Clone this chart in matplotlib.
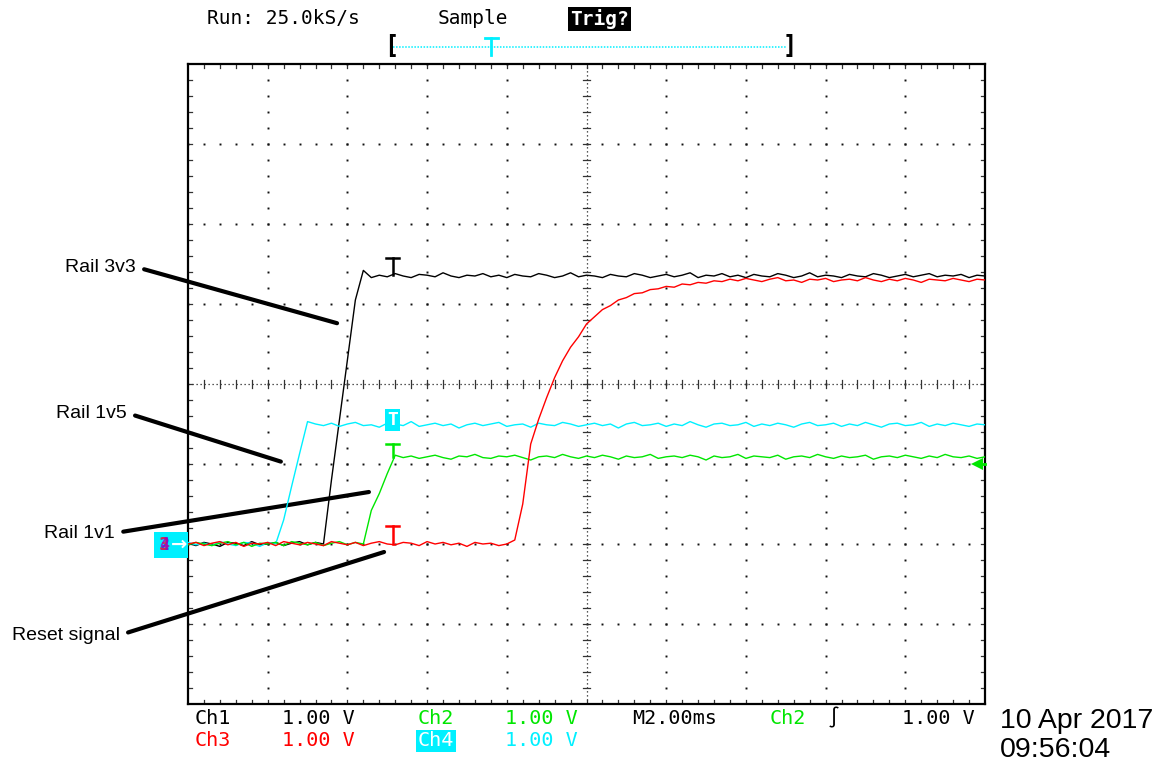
import matplotlib
matplotlib.use("Agg")
import matplotlib.pyplot as plt
from matplotlib.lines import Line2D
from matplotlib.patches import Rectangle
import numpy as np

W, H = 1164, 766

# scope settings: 2 ms/div horizontal, 1 V/div on every channel, ground 2 div below centre
ms_per_div = 2.0
v_per_div = 1.0
n_xdiv, n_ydiv = 10, 8
ground_div = -2
trig_ms = 5.14          # trigger point ("T" markers)
trig_level = 1.00       # Ch2 rising edge level

# one sample every 0.2 ms across the 20 ms screen
t_ms = np.arange(101) * 0.2

# Ch1 - Rail 3v3 (black)
ch1_v = [0.01, -0.02, 0.02, 0.00, -0.03, 0.02, 0.01, -0.02, 0.03, -0.01,
         0.00, 0.02, -0.02, 0.01, 0.03, -0.01, 0.02,
         0.00, 0.80, 1.55, 2.30, 3.05, 3.42,
         3.33, 3.36, 3.34, 3.38, 3.35, 3.33, 3.37, 3.36, 3.34, 3.39,
         3.35, 3.33, 3.36, 3.35, 3.38, 3.34, 3.36, 3.33, 3.37, 3.35,
         3.34, 3.38, 3.36, 3.33, 3.35, 3.39, 3.34, 3.36, 3.35, 3.33,
         3.37, 3.35, 3.34, 3.38, 3.36, 3.33, 3.35, 3.37, 3.34, 3.36,
         3.39, 3.33, 3.36, 3.35, 3.38, 3.34, 3.36, 3.33, 3.37, 3.35,
         3.34, 3.38, 3.36, 3.33, 3.35, 3.39, 3.34, 3.36, 3.35, 3.33,
         3.37, 3.35, 3.34, 3.38, 3.36, 3.33, 3.35, 3.37, 3.34, 3.36,
         3.38, 3.34, 3.36, 3.35, 3.37, 3.33, 3.36, 3.35]

# Ch4 - Rail 1v5 (cyan)
ch4_v = [0.02, -0.01, 0.01, -0.02, 0.03, 0.00, -0.02, 0.02, 0.01, -0.03, 0.02, 0.00,
         0.30, 0.72, 1.13, 1.53,
         1.50, 1.48, 1.51, 1.47, 1.50, 1.52, 1.48, 1.49, 1.46, 1.51,
         1.50, 1.48, 1.53, 1.47, 1.49, 1.51, 1.48, 1.50, 1.45, 1.49,
         1.51, 1.48, 1.50, 1.52, 1.47, 1.49, 1.50, 1.46, 1.51, 1.49,
         1.48, 1.52, 1.50, 1.47, 1.49, 1.51, 1.48, 1.50, 1.45, 1.50,
         1.52, 1.48, 1.49, 1.51, 1.47, 1.50, 1.48, 1.53, 1.49, 1.46,
         1.50, 1.51, 1.48, 1.49, 1.52, 1.47, 1.50, 1.48, 1.51, 1.49,
         1.46, 1.50, 1.52, 1.48, 1.49, 1.51, 1.47, 1.50, 1.48, 1.52,
         1.49, 1.46, 1.50, 1.51, 1.48, 1.49, 1.52, 1.47, 1.50, 1.48,
         1.51, 1.49, 1.47, 1.50, 1.49]

# Ch2 - Rail 1v1 (green)
ch2_v = [-0.01, 0.02, 0.00, -0.02, 0.01, 0.03, -0.01, 0.02, -0.03, 0.01,
         0.00, 0.02, -0.02, 0.03, 0.01, -0.01, 0.02, -0.02, 0.01, 0.03,
         -0.01, 0.02, 0.00,
         0.42, 0.63, 0.88, 1.11,
         1.08, 1.10, 1.07, 1.09, 1.11, 1.08, 1.06, 1.10, 1.09, 1.12,
         1.08, 1.07, 1.10, 1.09, 1.11, 1.08, 1.05, 1.09, 1.10, 1.08,
         1.12, 1.09, 1.07, 1.10, 1.08, 1.11, 1.09, 1.06, 1.10, 1.08,
         1.09, 1.12, 1.07, 1.09, 1.10, 1.08, 1.11, 1.09, 1.05, 1.10,
         1.08, 1.09, 1.12, 1.07, 1.10, 1.09, 1.08, 1.11, 1.06, 1.09,
         1.10, 1.08, 1.12, 1.09, 1.07, 1.10, 1.08, 1.09, 1.11, 1.06,
         1.09, 1.10, 1.08, 1.11, 1.09, 1.07, 1.10, 1.08, 1.12, 1.09,
         1.08, 1.10, 1.07, 1.09]

# Ch3 - Reset signal (red)
ch3_v = [0.00, 0.02, -0.02, 0.01, 0.03, -0.01, 0.02, -0.03, 0.01, 0.00,
         0.02, -0.02, 0.03, 0.01, -0.01, 0.02, 0.00, -0.02, 0.03, 0.01,
         -0.01, 0.02, -0.02, 0.01, 0.03, 0.00, -0.01, 0.02, 0.01, -0.02,
         0.03, 0.00, 0.02, -0.01, 0.01, -0.03, 0.02, 0.00, 0.01, -0.02,
         0.00,
         0.05, 0.50, 1.25, 1.56, 1.83, 2.08, 2.29, 2.46, 2.59, 2.75,
         2.84, 2.93, 2.98, 3.05, 3.08, 3.13, 3.14, 3.18, 3.19, 3.22,
         3.21, 3.25, 3.24, 3.27, 3.26, 3.29, 3.28, 3.31,
         3.29, 3.32, 3.30, 3.28, 3.31, 3.33, 3.29, 3.30, 3.27, 3.31,
         3.30, 3.32, 3.28, 3.30, 3.31, 3.29, 3.33, 3.30, 3.28, 3.31,
         3.29, 3.32, 3.30, 3.27, 3.31, 3.30, 3.29, 3.32, 3.30, 3.28,
         3.31, 3.30]

BLACK, CYAN, GREEN, RED = '#000000', '#00f0ff', '#00e600', '#ff0000'
MONO = 'DejaVu Sans Mono'
SANS = 'Liberation Sans'


def fpx(x, y):
    """pixel position in the screenshot -> figure fraction"""
    return x / W, 1 - y / H


fig = plt.figure(figsize=(W / 100, H / 100), dpi=100)
ax = fig.add_axes([188 / W, 1 - 704 / H, 797 / W, 640 / H])

x0, x1 = 0, n_xdiv * ms_per_div
y0 = ground_div * v_per_div
y1 = y0 + n_ydiv * v_per_div
xc, yc = (x0 + x1) / 2, (y0 + y1) / 2
ax.set_xlim(x0, x1)
ax.set_ylim(y0, y1)
ax.set_xticks([])
ax.set_yticks([])
for s in ax.spines.values():
    s.set_linewidth(1.6)
    s.set_color('black')

# graticule: dots on each division line, fine dots + ticks on centre lines
minor_x = np.arange(x0, x1 + 1e-6, ms_per_div / 5)
minor_y = np.arange(y0, y1 + 1e-6, v_per_div / 5)
dot = dict(ls='none', marker='s', ms=1.4, color='#111111', mew=0)
for xv in np.arange(x0 + ms_per_div, x1, ms_per_div):
    if abs(xv - xc) > 1e-6:
        ax.plot(np.full(len(minor_y), xv), minor_y, **dot)
for yv in np.arange(y0 + v_per_div, y1, v_per_div):
    if abs(yv - yc) > 1e-6:
        ax.plot(minor_x, np.full(len(minor_x), yv), **dot)
ax.axvline(xc, color='#222222', lw=0.9, ls=(0, (1, 2.2)))
ax.axhline(yc, color='#222222', lw=0.9, ls=(0, (1, 2.2)))
tx = 0.1   # tick half-length in ms
ty = 0.05  # tick half-length in V
tick = dict(color='#333333', lw=0.9)
for yv in minor_y[1:-1]:
    ax.plot([xc - tx, xc + tx], [yv, yv], **tick)
    ax.plot([x0, x0 + tx], [yv, yv], **tick)
    ax.plot([x1 - tx, x1], [yv, yv], **tick)
for xv in minor_x[1:-1]:
    ax.plot([xv, xv], [yc - ty, yc + ty], **tick)
    ax.plot([xv, xv], [y1 - ty, y1], **tick)
    ax.plot([xv, xv], [y0, y0 + ty], **tick)

# traces
ax.plot(t_ms, ch1_v, color=BLACK, lw=1.0, zorder=3)
ax.plot(t_ms, ch4_v, color=CYAN, lw=1.0, zorder=4)
ax.plot(t_ms, ch2_v, color=GREEN, lw=1.0, zorder=5)
ax.plot(t_ms, ch3_v, color=RED, lw=1.0, zorder=6)

# trigger "T" markers on each trace
for base, top, c in [(3.36, 3.58, BLACK), (1.09, 1.25, GREEN), (0.0, 0.22, RED)]:
    ax.plot([trig_ms - 0.16, trig_ms + 0.16], [top, top], color=c, lw=1.8, zorder=7)
    ax.plot([trig_ms, trig_ms], [top, base], color=c, lw=1.8, zorder=7)
ax.text(trig_ms, 1.55, 'T', color='white', fontsize=13, fontweight='bold', family=MONO,
        ha='center', va='center', zorder=8,
        bbox=dict(boxstyle='square,pad=0.12', fc=CYAN, ec='none'))

# trigger level arrow on the right edge
ax.plot([19.8], [trig_level], marker='<', ms=8, color=GREEN, mew=0, zorder=8, clip_on=False)
ax.plot([19.8, 20.0], [trig_level, trig_level], color=GREEN, lw=2, zorder=8, clip_on=False)

# annotations
notes = [('Rail 3v3', 136, 267, 3.74, 2.76),
         ('Rail 1v5', 127, 413, 2.33, 1.03),
         ('Rail 1v1', 115, 533, 4.54, 0.65),
         ('Reset signal', 120, 635, 4.92, -0.10)]
for label, lx, ly, px, py in notes:
    ax.annotate(label, xy=(px, py), xycoords='data',
                xytext=(lx, H - ly), textcoords='figure pixels',
                ha='right', va='center', fontsize=14, family=SANS,
                annotation_clip=False,
                arrowprops=dict(arrowstyle='-', lw=3, color='black',
                                shrinkA=4, shrinkB=0, relpos=(1, 0.5)))

# ground marker box on the left
fig.patches.append(Rectangle(fpx(154, 558), 34 / W, 26 / H, transform=fig.transFigure,
                             fc=CYAN, ec='none', zorder=5))
for ch, c in [('2', '#2020ff'), ('3', '#ff2020'), ('4', '#a000c0')]:
    fig.text(*fpx(164, 545), ch, color=c, fontsize=12, fontweight='bold', family=MONO,
             ha='center', va='center', alpha=0.8, zorder=6)
fig.text(*fpx(179, 544), '\u2192', color='white', fontsize=14, fontweight='bold',
         family='DejaVu Sans', ha='center', va='center', zorder=6)

# header
fig.text(*fpx(207, 19), 'Run: 25.0kS/s', fontsize=14, family=MONO, va='center')
fig.text(*fpx(438, 19), 'Sample', fontsize=14, family=MONO, va='center')
fig.text(*fpx(570, 19), 'Trig?', fontsize=14, family=MONO, va='center', color='white',
         fontweight='bold', bbox=dict(boxstyle='square,pad=0.1', fc='black', ec='none'))
fig.text(*fpx(384, 46), '[', fontsize=17, family=MONO, fontweight='bold', va='center')
fig.text(*fpx(783, 46), ']', fontsize=17, family=MONO, fontweight='bold', va='center')
fig.add_artist(Line2D([393 / W, 786 / W], [1 - 47 / H] * 2, color=CYAN, lw=1.1,
                      ls=(0, (1, 1))))
fig.add_artist(Line2D([485 / W, 498 / W], [1 - 38 / H] * 2, color=CYAN, lw=2))
fig.add_artist(Line2D([491 / W, 491 / W], [1 - 38 / H, 1 - 55 / H], color=CYAN, lw=2))

# footer readouts
row1, row2 = 718, 741
foot = [('Ch1', 195, row1, BLACK), ('1.00 V', 282, row1, BLACK),
        ('Ch2', 418, row1, GREEN), ('1.00 V', 505, row1, GREEN),
        ('M2.00ms', 632, row1, BLACK), ('Ch2', 770, row1, GREEN),
        ('\u222b', 828, row1, BLACK), ('1.00 V', 902, row1, BLACK),
        ('Ch3', 195, row2, RED), ('1.00 V', 282, row2, RED),
        ('1.00 V', 505, row2, CYAN)]
for s, x, y, c in foot:
    fig.text(*fpx(x, y), s, color=c, fontsize=14.5, family=MONO, va='center')
fig.text(*fpx(418, row2), 'Ch4', color='white', fontsize=14.5, family=MONO, va='center',
         bbox=dict(boxstyle='square,pad=0.08', fc=CYAN, ec='none'))
fig.text(*fpx(1000, 721), '10 Apr 2017', fontsize=20.5, family=SANS, va='center')
fig.text(*fpx(1000, 750), '09:56:04', fontsize=20.5, family=SANS, va='center')

fig.savefig('out.png', dpi=100, facecolor='white')
